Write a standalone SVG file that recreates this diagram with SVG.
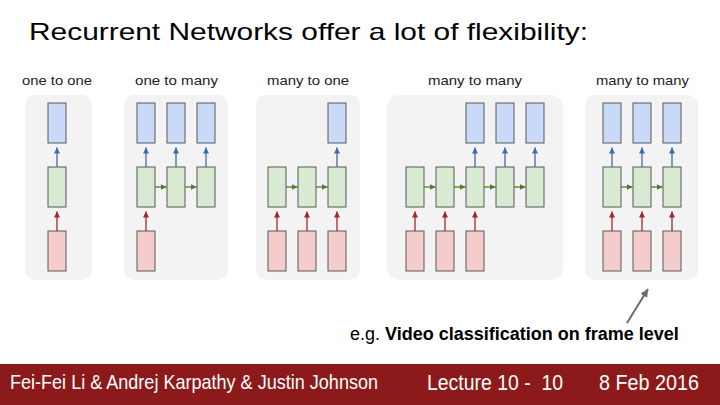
<svg xmlns="http://www.w3.org/2000/svg" width="720" height="405" viewBox="0 0 720 405">
<style>
.bg{fill:#f3f3f3}
.o{fill:#c9daf8;stroke:#595959;stroke-width:1}
.h{fill:#d9ead3;stroke:#595959;stroke-width:1}
.i{fill:#f4cccc;stroke:#595959;stroke-width:1}
.lbl{font-family:"Liberation Sans",Arial,sans-serif;font-size:13.5px;fill:#222;text-anchor:middle}
.ab{stroke:#3d6aa8;stroke-width:1.3;fill:none;marker-end:url(#mb)}
.ar{stroke:#a3262a;stroke-width:1.3;fill:none;marker-end:url(#mr)}
.ag{stroke:#4b7d2c;stroke-width:1.3;fill:none;marker-end:url(#mg)}
.ft{font-family:"Liberation Sans",Arial,sans-serif;fill:#fff;white-space:pre}
</style>
<defs>
<marker id="mb" markerUnits="userSpaceOnUse" markerWidth="7" markerHeight="7" refX="6" refY="3" orient="auto"><path d="M0,0 L6,3 L0,6 z" fill="#3d6aa8"/></marker>
<marker id="mr" markerUnits="userSpaceOnUse" markerWidth="7" markerHeight="7" refX="6" refY="3" orient="auto"><path d="M0,0 L6,3 L0,6 z" fill="#a3262a"/></marker>
<marker id="mg" markerUnits="userSpaceOnUse" markerWidth="7" markerHeight="7" refX="6" refY="3" orient="auto"><path d="M0,0 L6,3 L0,6 z" fill="#4b7d2c"/></marker>
<marker id="mk" markerUnits="userSpaceOnUse" markerWidth="10" markerHeight="10" refX="8" refY="4" orient="auto"><path d="M0,0 L8,4 L0,8 z" fill="#6b6b6b"/></marker>
</defs>
<rect width="720" height="405" fill="#fff"/>
<text x="29" y="40" font-family="Liberation Sans, Arial, sans-serif" font-size="24" textLength="559" lengthAdjust="spacingAndGlyphs" fill="#000">Recurrent Networks offer a lot of flexibility:</text>

<g id="panel-one-to-one">
<rect class="bg" x="25" y="95" width="67" height="185" rx="10"/>
<text class="lbl" x="57" y="85" textLength="70" lengthAdjust="spacingAndGlyphs">one to one</text>
<rect class="o" x="48" y="103" width="18" height="40"/>
<rect class="h" x="48" y="167" width="18" height="40"/>
<rect class="i" x="48" y="231" width="18" height="40"/>
</g>
<g id="panel-one-to-many">
<rect class="bg" x="124" y="95" width="104" height="185" rx="10"/>
<text class="lbl" x="176.5" y="85" textLength="83" lengthAdjust="spacingAndGlyphs">one to many</text>
<rect class="o" x="137" y="103" width="18" height="40"/>
<rect class="o" x="167" y="103" width="18" height="40"/>
<rect class="o" x="197" y="103" width="18" height="40"/>
<rect class="h" x="137" y="167" width="18" height="40"/>
<rect class="h" x="167" y="167" width="18" height="40"/>
<rect class="h" x="197" y="167" width="18" height="40"/>
<rect class="i" x="137" y="231" width="18" height="40"/>
</g>
<g id="panel-many-to-one">
<rect class="bg" x="256" y="95" width="104" height="185" rx="10"/>
<text class="lbl" x="308" y="85" textLength="82" lengthAdjust="spacingAndGlyphs">many to one</text>
<rect class="o" x="328" y="103" width="18" height="40"/>
<rect class="h" x="268" y="167" width="18" height="40"/>
<rect class="h" x="298" y="167" width="18" height="40"/>
<rect class="h" x="328" y="167" width="18" height="40"/>
<rect class="i" x="268" y="231" width="18" height="40"/>
<rect class="i" x="298" y="231" width="18" height="40"/>
<rect class="i" x="328" y="231" width="18" height="40"/>
</g>
<g id="panel-many-to-many-1">
<rect class="bg" x="387" y="95" width="176" height="185" rx="12"/>
<text class="lbl" x="475" y="85" textLength="94" lengthAdjust="spacingAndGlyphs">many to many</text>
<rect class="o" x="466" y="103" width="18" height="40"/>
<rect class="o" x="496" y="103" width="18" height="40"/>
<rect class="o" x="526" y="103" width="18" height="40"/>
<rect class="h" x="406" y="167" width="18" height="40"/>
<rect class="h" x="436" y="167" width="18" height="40"/>
<rect class="h" x="466" y="167" width="18" height="40"/>
<rect class="h" x="496" y="167" width="18" height="40"/>
<rect class="h" x="526" y="167" width="18" height="40"/>
<rect class="i" x="406" y="231" width="18" height="40"/>
<rect class="i" x="436" y="231" width="18" height="40"/>
<rect class="i" x="466" y="231" width="18" height="40"/>
</g>
<g id="panel-many-to-many-2">
<rect class="bg" x="585" y="95" width="113" height="185" rx="10"/>
<text class="lbl" x="642.5" y="85" textLength="93" lengthAdjust="spacingAndGlyphs">many to many</text>
<rect class="o" x="603" y="103" width="18" height="40"/>
<rect class="o" x="633" y="103" width="18" height="40"/>
<rect class="o" x="663" y="103" width="18" height="40"/>
<rect class="h" x="603" y="167" width="18" height="40"/>
<rect class="h" x="633" y="167" width="18" height="40"/>
<rect class="h" x="663" y="167" width="18" height="40"/>
<rect class="i" x="603" y="231" width="18" height="40"/>
<rect class="i" x="633" y="231" width="18" height="40"/>
<rect class="i" x="663" y="231" width="18" height="40"/>
</g>

<g id="connectors">
<line class="ab" x1="57" y1="167" x2="57" y2="147.5"/>
<line class="ab" x1="146" y1="167" x2="146" y2="147.5"/>
<line class="ab" x1="176" y1="167" x2="176" y2="147.5"/>
<line class="ab" x1="206" y1="167" x2="206" y2="147.5"/>
<line class="ab" x1="337" y1="167" x2="337" y2="147.5"/>
<line class="ab" x1="475" y1="167" x2="475" y2="147.5"/>
<line class="ab" x1="505" y1="167" x2="505" y2="147.5"/>
<line class="ab" x1="535" y1="167" x2="535" y2="147.5"/>
<line class="ab" x1="612" y1="167" x2="612" y2="147.5"/>
<line class="ab" x1="642" y1="167" x2="642" y2="147.5"/>
<line class="ab" x1="672" y1="167" x2="672" y2="147.5"/>

<line class="ar" x1="57" y1="231" x2="57" y2="211.5"/>
<line class="ar" x1="146" y1="231" x2="146" y2="211.5"/>
<line class="ar" x1="277" y1="231" x2="277" y2="211.5"/>
<line class="ar" x1="307" y1="231" x2="307" y2="211.5"/>
<line class="ar" x1="337" y1="231" x2="337" y2="211.5"/>
<line class="ar" x1="415" y1="231" x2="415" y2="211.5"/>
<line class="ar" x1="445" y1="231" x2="445" y2="211.5"/>
<line class="ar" x1="475" y1="231" x2="475" y2="211.5"/>
<line class="ar" x1="612" y1="231" x2="612" y2="211.5"/>
<line class="ar" x1="642" y1="231" x2="642" y2="211.5"/>
<line class="ar" x1="672" y1="231" x2="672" y2="211.5"/>

<line class="ag" x1="155" y1="187" x2="166.5" y2="187"/>
<line class="ag" x1="185" y1="187" x2="196.5" y2="187"/>
<line class="ag" x1="286" y1="187" x2="297.5" y2="187"/>
<line class="ag" x1="316" y1="187" x2="327.5" y2="187"/>
<line class="ag" x1="424" y1="187" x2="435.5" y2="187"/>
<line class="ag" x1="454" y1="187" x2="465.5" y2="187"/>
<line class="ag" x1="484" y1="187" x2="495.5" y2="187"/>
<line class="ag" x1="514" y1="187" x2="525.5" y2="187"/>
<line class="ag" x1="621" y1="187" x2="632.5" y2="187"/>
<line class="ag" x1="651" y1="187" x2="662.5" y2="187"/>

<line x1="627" y1="323" x2="648" y2="289" stroke="#6b6b6b" stroke-width="2" marker-end="url(#mk)"/>
</g>

<text x="350" y="340" font-family="Liberation Sans, Arial, sans-serif" font-size="18" fill="#000">e.g. <tspan font-weight="bold">Video classification on frame level</tspan></text>

<g id="footer">
<rect x="0" y="364" width="720" height="41" fill="#8c1a1a"/>
<text class="ft" x="10" y="389" font-size="21" textLength="368" lengthAdjust="spacingAndGlyphs">Fei-Fei Li &amp; Andrej Karpathy &amp; Justin Johnson</text>
<text class="ft" x="427" y="390" font-size="22" textLength="136" lengthAdjust="spacingAndGlyphs">Lecture 10 -  10</text>
<text class="ft" x="599" y="390" font-size="22" textLength="100" lengthAdjust="spacingAndGlyphs">8 Feb 2016</text>
</g>
</svg>
